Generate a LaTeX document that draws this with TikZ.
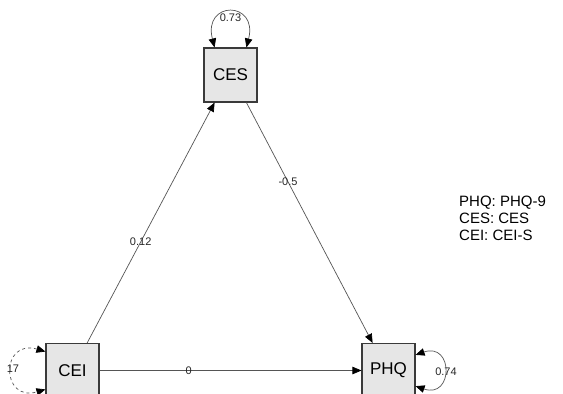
\documentclass[tikz,border=0pt]{standalone}
\usepackage{fontspec}
\setmainfont{Liberation Sans}
\usetikzlibrary{arrows.meta}
\definecolor{boxfill}{HTML}{E6E6E6}
\definecolor{boxline}{HTML}{3A3A3A}
\definecolor{pathline}{HTML}{555555}
\tikzset{
  tip/.tip={Triangle[length=9pt,width=7.5pt,fill=black,color=black]},
  var/.style={draw=boxline, fill=boxfill, line width=1.1pt, minimum width=53pt,
    minimum height=54pt, inner sep=0pt, font=\fontsize{17}{17}\selectfont},
  path/.style={draw=pathline, line width=0.7pt, -tip},
  resid/.style={draw=pathline, line width=0.7pt, tip-tip},
  coef/.style={font=\fontsize{11}{11}\selectfont, text=black!85, inner sep=0pt},
  legend/.style={font=\fontsize{15}{17}\selectfont, align=left, anchor=north west, inner sep=0pt}
}
\begin{document}
\begin{tikzpicture}[x=1pt,y=-1pt]
  \useasboundingbox (0,0) rectangle (563,394);
  \clip (0,0) rectangle (563,394);
  \fill[white] (0,0) rectangle (563,394);

  % observed variables
  \node[var] (CES) at (230.5,75) {CES};
  \node[var] (CEI) at (72.5,370.5) {CEI};
  \node[var] (PHQ) at (388.5,370.5) {PHQ};

  % regression paths
  \draw[path] (CEI.62) -- node[coef, pos=0.42] {0.12} (CES.240);
  \draw[path] (CES.300) -- node[coef, pos=0.33] {-0.5} (PHQ.120);
  \draw[path] (CEI.east) -- node[coef, pos=0.34] {0} (PHQ.west);

  % residual variances
  \draw[resid] (CES.120) .. controls +(-12,-47) and +(12,-47) .. (CES.60);
  \node[coef] (vCES) at (230.5,18) {0.73};
  \draw[resid] (PHQ.30) .. controls +(38,-13) and +(38,13) .. (PHQ.-30);
  \node[coef] (vPHQ) at (446,372) {0.74};
  \draw[resid, dashed] (CEI.145) .. controls +(-45,-13) and +(-45,13) .. (CEI.215);
  \node[coef] (vCEI) at (13,369) {17};

  % abbreviations
  \node[legend] (key) at (459,196) {PHQ: PHQ-9\\CES: CES\\CEI: CEI-S};
\end{tikzpicture}
\end{document}
